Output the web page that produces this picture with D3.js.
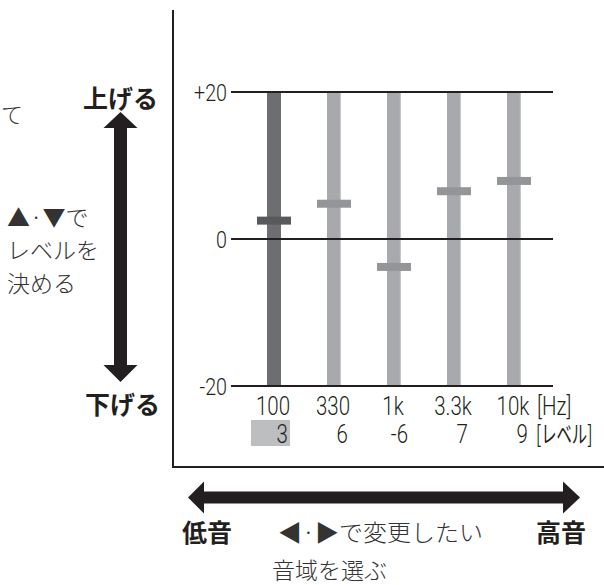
<!DOCTYPE html>
<html><head><meta charset="utf-8">
<script src="https://cdn.jsdelivr.net/npm/d3@7"></script>
<style>
body{margin:0;background:#fff;}
svg{display:block;}
.num{font-family:Roboto,'Liberation Sans',sans-serif;font-weight:300;fill:#231f20;}
.jp{font-family:'Noto Sans CJK JP',sans-serif;font-weight:300;fill:#333;}
.jpb{font-family:'Noto Sans CJK JP',sans-serif;font-weight:700;fill:#231f20;}
</style>
</head><body>
<svg id="c" width="604" height="585"></svg>
<script>
const freqs = ["100","330","1k","3.3k","10k"];
const knobLevels = [2.5, 4.8, -3.8, 6.5, 7.9];
const levelLabels = ["3","6","-6","7","9"];
const yTicks = [20, 0, -20];
const yTickLabels = ["+20","0","-20"];
const selectedIndex = 0;

const svg = d3.select("#c");
const y = d3.scaleLinear().domain([-20,20]).range([386,92]);
const x = d3.scalePoint().domain(freqs).range([274,514]);
const SX = 0.82;
const narrow = (sel, fx, fy, sx) => sel.attr("x",0).attr("y",0)
  .attr("transform",(d,i)=>`translate(${fx(d,i)},${fy(d,i)}) scale(${sx||SX},1)`);

// frame
svg.append("line").attr("x1",173).attr("x2",173).attr("y1",10).attr("y2",468).attr("stroke","#231f20").attr("stroke-width",2);
svg.append("line").attr("x1",172).attr("x2",604).attr("y1",467).attr("y2",467).attr("stroke","#231f20").attr("stroke-width",2);

// bars
const barW = 14;
svg.selectAll("rect.bar").data(freqs).join("rect").attr("class","bar")
  .attr("x",d=>x(d)-barW/2).attr("width",barW)
  .attr("y",y(20)).attr("height",y(-20)-y(20))
  .attr("fill",(d,i)=>i===selectedIndex?"#6d6e71":"#a7a9ac");
svg.selectAll("rect.edge").data(freqs).join("rect").attr("class","edge")
  .attr("x",d=>x(d)+barW/2-1.2).attr("width",1.2)
  .attr("y",y(20)).attr("height",y(-20)-y(20))
  .attr("fill",(d,i)=>i===selectedIndex?"#6d6e71":"#c4c5c7");

// grid lines
svg.selectAll("line.grid").data(yTicks).join("line").attr("class","grid")
  .attr("x1",231).attr("x2",553).attr("y1",d=>y(d)).attr("y2",d=>y(d))
  .attr("stroke","#231f20").attr("stroke-width",2);
narrow(svg.selectAll("text.yt").data(yTicks).join("text").attr("class","num yt")
  .attr("text-anchor","end").attr("font-size",24).text((d,i)=>yTickLabels[i]),
  d=>227, d=>y(d)+8.5);

// knobs
svg.selectAll("rect.knob").data(freqs).join("rect").attr("class","knob")
  .attr("x",d=>x(d)-17).attr("width",34)
  .attr("y",(d,i)=>y(knobLevels[i])-4).attr("height",8)
  .attr("fill",(d,i)=>i===selectedIndex?"#58595b":"#939598");

// labels under
svg.append("rect").attr("x",x(freqs[selectedIndex])-23).attr("y",420).attr("width",39).attr("height",26).attr("fill","#bcbec0");
narrow(svg.selectAll("text.fq").data(freqs).join("text").attr("class","num fq")
  .attr("text-anchor","middle").attr("font-size",25).text(d=>d),
  d=>x(d)-1, d=>415);
narrow(svg.selectAll("text.lv").data(levelLabels).join("text").attr("class","num lv")
  .attr("text-anchor","end").attr("font-size",25).text(d=>d),
  (d,i)=>x(freqs[i])+14, d=>443);
narrow(svg.selectAll("text.hz").data(["[Hz]"]).join("text").attr("class","num hz")
  .attr("font-size",25).text(d=>d), d=>537, d=>415);
narrow(svg.selectAll("text.lvunit").data(["[レベル]"]).join("text").attr("class","jp lvunit")
  .attr("font-size",24).style("font-weight",400).style("fill","#231f20").text(d=>d), d=>536, d=>443, 0.64);

// vertical double arrow
const ax = 120.5;
svg.append("rect").attr("x",ax-6.5).attr("y",126).attr("width",13).attr("height",240).attr("fill","#231f20");
svg.append("path").attr("d",`M${ax},112 L${ax+17},128 L${ax-17},128 Z`).attr("fill","#231f20");
svg.append("path").attr("d",`M${ax},382 L${ax+17},365 L${ax-17},365 Z`).attr("fill","#231f20");
svg.append("text").attr("class","jpb").attr("x",ax).attr("y",108).attr("text-anchor","middle").attr("font-size",25).text("上げる");
svg.append("text").attr("class","jpb").attr("x",ax+2).attr("y",414).attr("text-anchor","middle").attr("font-size",25).text("下げる");

// left notes
svg.append("text").attr("class","jp").attr("x",1).attr("y",123).attr("font-size",22).text("て");
svg.append("text").attr("class","jp").attr("x",7).attr("y",226).attr("font-size",23).text("▲·▼で");
svg.append("text").attr("class","jp").attr("x",7).attr("y",259).attr("font-size",23).text("レベルを");
svg.append("text").attr("class","jp").attr("x",7).attr("y",292).attr("font-size",23).text("決める");

// horizontal double arrow
const ay = 497.5;
svg.append("rect").attr("x",202).attr("y",ay-6).attr("width",362).attr("height",12).attr("fill","#231f20");
svg.append("path").attr("d",`M188,${ay} L204,${ay-16} L204,${ay+16} Z`).attr("fill","#231f20");
svg.append("path").attr("d",`M580,${ay} L563,${ay-16} L563,${ay+16} Z`).attr("fill","#231f20");
svg.append("text").attr("class","jpb").attr("x",182).attr("y",542).attr("font-size",25).text("低音");
svg.append("text").attr("class","jpb").attr("x",536).attr("y",542).attr("font-size",25).text("高音");
svg.append("text").attr("class","jp").attr("x",278).attr("y",541).attr("font-size",23)
  .attr("textLength",205).attr("lengthAdjust","spacingAndGlyphs").text("◀·▶で変更したい");
svg.append("text").attr("class","jp").attr("x",272).attr("y",579).attr("font-size",23).text("音域を選ぶ");
</script>
</body></html>
